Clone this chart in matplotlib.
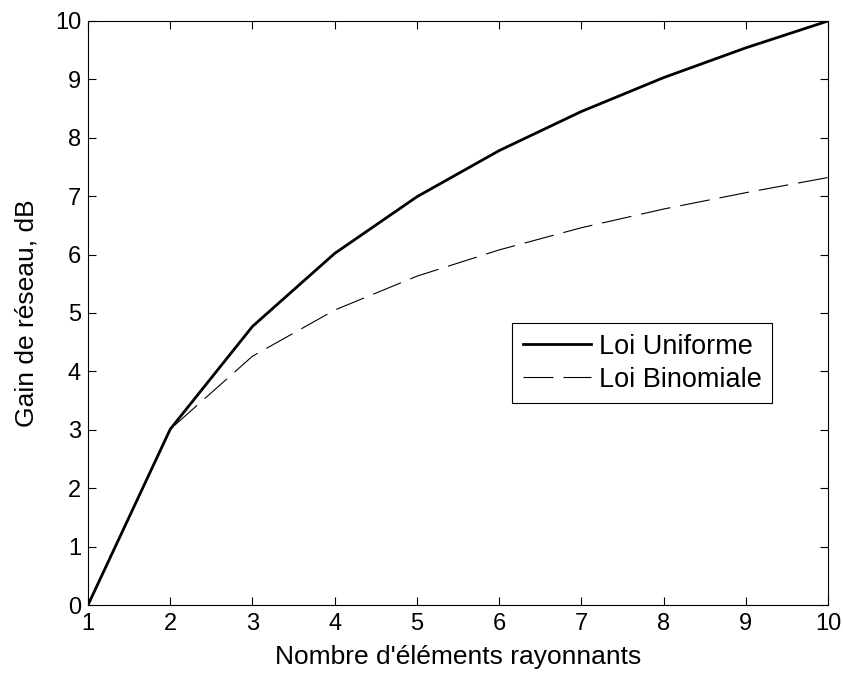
import matplotlib.pyplot as plt

plt.rcParams['font.family'] = ['Liberation Sans', 'DejaVu Sans']

# nombre d'elements
N = [1, 2, 3, 4, 5, 6, 7, 8, 9, 10]
# gain en dB
gain_uniforme = [0, 3.01, 4.77, 6.02, 6.99, 7.78, 8.45, 9.03, 9.54, 10.0]
gain_binomiale = [0, 3.01, 4.26, 5.05, 5.63, 6.08, 6.46, 6.78, 7.06, 7.32]

fig = plt.figure(figsize=(8.43, 6.75), dpi=100)
ax = fig.add_axes([0.1044, 0.1037, 0.8778, 0.8652])

ax.plot(N, gain_uniforme, color='k', lw=2.0, label='Loi Uniforme')
ax.plot(N, gain_binomiale, color='k', lw=0.8, dashes=(27, 9), label='Loi Binomiale')

ax.set_xlim(1, 10)
ax.set_ylim(0, 10)
ax.set_xticks(range(1, 11))
ax.set_yticks(range(0, 11))
ax.tick_params(direction='in', top=True, right=True, labelsize=17, length=6, width=0.8)
ax.tick_params(axis='x', pad=6)
ax.tick_params(axis='y', pad=5)
for s in ax.spines.values():
    s.set_linewidth(0.8)

ax.set_xlabel("Nombre d'éléments rayonnants", fontsize=19, labelpad=7)
ax.set_ylabel('Gain de réseau, dB', fontsize=19, labelpad=12)

leg = ax.legend(loc='upper left', bbox_to_anchor=(0.573, 0.483), fontsize=19.5,
                fancybox=False, framealpha=1, edgecolor='k', handlelength=2.5,
                borderpad=0.4, labelspacing=0.25, handletextpad=0.3,
                borderaxespad=0)
leg.get_frame().set_linewidth(0.8)

fig.savefig('out.png', dpi=100)
